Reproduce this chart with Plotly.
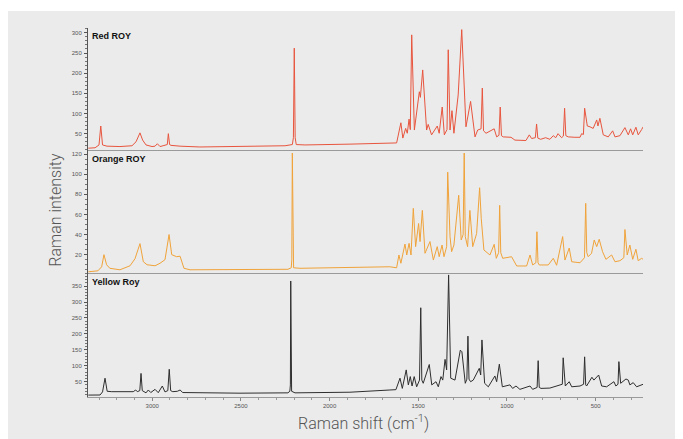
import plotly.graph_objects as go
from plotly.subplots import make_subplots

# ---------------- data ----------------
red_shift = [3360, 3322, 3300, 3290, 3280, 3255, 3182, 3114, 3091, 3069, 3054, 3035, 3001, 2984, 2971,
             2956, 2939, 2928, 2915, 2909, 2902, 2894, 2843, 2731, 2505, 2251, 2210, 2204, 2199, 2194,
             2188, 2139, 1885, 1660, 1622, 1598, 1587, 1571, 1562, 1552, 1545, 1537, 1522, 1494, 1488,
             1475, 1453, 1444, 1425, 1393, 1382, 1365, 1353, 1338, 1331, 1321, 1310, 1299, 1275, 1255,
             1231, 1205, 1180, 1165, 1146, 1139, 1132, 1118, 1072, 1058, 1045, 1038, 1031, 1021, 977,
             955, 893, 874, 861, 840, 833, 826, 810, 782, 758, 739, 725, 712, 692, 682, 675, 668, 654,
             617, 588, 579, 569, 562, 547, 532, 514, 494, 487, 476, 457, 429, 404, 391, 363, 335, 316,
             303, 291, 273, 260, 241, 232]
red_int = [14, 15, 22, 69, 22, 19, 18, 20, 30, 52, 34, 22, 18, 19, 25,
           18, 20, 21, 23, 50, 23, 21, 19, 17, 18, 20, 23, 40, 262, 40,
           23, 22, 24, 26, 27, 77, 39, 63, 51, 86, 60, 295, 59, 154, 140,
           208, 59, 73, 47, 69, 51, 116, 47, 60, 258, 59, 107, 51, 146, 308,
           67, 130, 42, 59, 62, 163, 57, 51, 62, 42, 46, 116, 45, 42, 41,
           34, 33, 47, 38, 40, 74, 39, 36, 40, 36, 45, 40, 50, 40, 44, 113, 45, 42,
           41, 41, 50, 48, 113, 69, 67, 63, 84, 69, 88, 47, 42, 57, 42, 45, 65, 47,
           62, 47, 66, 47, 60, 67]

orange_shift = [3360, 3306, 3285, 3272, 3257, 3239, 3182, 3125, 3097, 3069, 3050, 3029, 2984, 2956, 2928,
                2905, 2890, 2862, 2843, 2821, 2787, 2730, 2505, 2235, 2216, 2213, 2210, 2207, 2203, 2167,
                1885, 1660, 1622, 1609, 1598, 1575, 1565, 1552, 1541, 1528, 1515, 1498, 1490, 1477, 1462,
                1434, 1415, 1393, 1382, 1366, 1355, 1340, 1334, 1321, 1312, 1299, 1272, 1258, 1247, 1241,
                1235, 1222, 1209, 1193, 1171, 1154, 1145, 1130, 1096, 1072, 1060, 1047, 1041, 1035, 1024,
                974, 945, 889, 870, 855, 837, 831, 825, 818, 767, 739, 720, 686, 673, 649, 635, 588, 563,
                556, 550, 542, 523, 508, 494, 480, 461, 442, 410, 391, 363, 341, 335, 322, 307, 291, 273,
                260, 241, 232]
orange_int = [3, 4, 8, 20, 10, 6.5, 5, 9, 16, 31, 13, 10, 9, 11.5, 15,
              40, 20, 18, 18.5, 6.5, 5, 5, 5, 5.5, 7, 15, 121, 15, 7, 6.5,
              7, 8, 7, 19.7, 11.5, 30.6, 19.7, 31.3, 19.7, 66, 28, 51, 33, 64, 21.4,
              33, 14.7, 28, 18, 29.6, 18, 28, 102, 38, 23, 29.6, 79, 34.6, 40, 121,
              38, 28, 64, 28, 41, 86.5, 56, 24.7, 19.7, 30.3, 16.4, 22, 69, 22, 16.4,
              18, 8.8, 8.8, 19.7, 9.8, 12, 42.8, 12, 9.8, 9.8, 16.4, 9.5, 38, 14.7, 26.6, 13, 12, 17,
              71, 22, 18, 21.4, 34.6, 28, 35.3, 23, 15.4, 19.7, 13, 14, 17, 45, 19.7, 29.6, 15.4, 25.4,
              14, 16.4, 15.4]

yellow_shift = [3360, 3294, 3280, 3266, 3254, 3228, 3107, 3093, 3084, 3070, 3063, 3056, 3035, 3022, 3008,
                2984, 2966, 2943, 2928, 2912, 2904, 2896, 2884, 2858, 2843, 2828, 2505, 2235, 2224, 2221,
                2219, 2217, 2214, 2195, 1885, 1660, 1626, 1603, 1590, 1568, 1556, 1545, 1535, 1523, 1509,
                1493, 1486, 1480, 1472, 1438, 1424, 1400, 1387, 1372, 1362, 1349, 1340, 1329, 1317, 1293,
                1263, 1254, 1235, 1226, 1220, 1214, 1205, 1190, 1156, 1148, 1141, 1126, 1105, 1068, 1058,
                1043, 1026, 983, 968, 949, 927, 870, 855, 830, 824, 818, 808, 758, 701, 688, 683, 671,
                649, 635, 588, 568, 562, 556, 551, 521, 510, 483, 466, 438, 397, 386, 374, 369, 359, 329,
                316, 307, 288, 269, 232]
yellow_int = [8, 8.3, 18, 61, 20, 18.7, 18.7, 24, 18.7, 22, 76, 22, 15, 24, 16,
              26, 15.5, 36.5, 18, 22, 89, 22, 18.7, 20, 24, 16, 14, 15, 20, 40,
              366, 40, 20, 15, 17, 24, 25, 61, 29, 87, 40, 66, 36.5, 66, 34,
              55, 282, 55, 45, 104, 40, 50, 34, 66, 55, 120, 87, 385, 61, 55,
              149, 144, 45, 58, 193, 58, 50, 55, 92, 71, 181, 45, 34, 68, 50,
              105, 34, 40, 29, 36.5, 26, 36.5, 26, 32, 116, 32, 29, 30, 40, 42, 125, 36.5,
              50, 34, 36.5, 42, 128, 40, 36.5, 64, 55, 71, 36.5, 34, 50, 36.5, 42, 113, 45, 58.5,
              55, 40, 47, 34, 42]

panel_names = ["Red ROY", "Orange ROY", "Yellow Roy"]
line_colors = ["#e8553e", "#f0a33a", "#2e2e2e"]
y_ranges = [[9.5, 312], [1.8, 124], [2, 391]]
y_ticks = [[50, 100, 150, 200, 250, 300], [20, 40, 60, 80, 100, 120], [50, 100, 150, 200, 250, 300, 350]]
y_minor = [10, 5, 10]
x_ticks = [500, 1000, 1500, 2000, 2500, 3000]
x_range = [3362, 233]

# ---------------- figure ----------------
fig = make_subplots(rows=3, cols=1, shared_xaxes=True, vertical_spacing=0)
series = [(red_shift, red_int), (orange_shift, orange_int), (yellow_shift, yellow_int)]
for i, (xs, ys) in enumerate(series):
    fig.add_trace(go.Scatter(x=xs, y=ys, mode="lines", name=panel_names[i],
                             line=dict(color=line_colors[i], width=1), showlegend=False),
                  row=i + 1, col=1)

domains = [[0.6694, 1.0], [0.3360, 0.6694], [0.0, 0.3360]]
tick_font = dict(family="Arial, Liberation Sans, sans-serif", size=6, color="#555555")
for i in range(3):
    ax = "yaxis" if i == 0 else f"yaxis{i + 1}"
    fig.layout[ax].update(domain=domains[i], range=y_ranges[i], tickvals=y_ticks[i],
                          showline=True, linecolor="#555555", linewidth=1,
                          ticks="outside", ticklen=3, tickcolor="#555555", tickwidth=1,
                          minor=dict(ticks="outside", ticklen=2, dtick=y_minor[i], tickcolor="#777777"),
                          showgrid=False, zeroline=False, tickfont=tick_font, ticklabelstandoff=1)
    xa = "xaxis" if i == 0 else f"xaxis{i + 1}"
    fig.layout[xa].update(range=x_range, showline=True, linecolor="#9a9a9a", linewidth=1,
                          showgrid=False, zeroline=False, tickvals=x_ticks)
    if i < 2:
        fig.layout[xa].update(ticks="", showticklabels=False)
    else:
        fig.layout[xa].update(ticks="outside", ticklen=3, tickcolor="#888888",
                              minor=dict(ticks="outside", ticklen=2, dtick=100, tickcolor="#999999"),
                              tickfont=tick_font)

label_y = [0.997, 0.664, 0.330]
for i in range(3):
    fig.add_annotation(xref="paper", yref="paper", x=0.004, y=label_y[i], xanchor="left", yanchor="top",
                       text=f"<b>{panel_names[i]}</b>", showarrow=False,
                       font=dict(family="Arial, Liberation Sans, sans-serif", size=9, color="#111111"))

title_font = dict(family="Roboto, Liberation Sans Narrow, sans-serif", size=16, color="#555555", weight=300)
fig.add_annotation(xref="paper", yref="paper", x=-0.058, y=0.507, xanchor="center", yanchor="middle",
                   text="Raman intensity", textangle=-90, showarrow=False, font=title_font)
fig.add_annotation(xref="paper", yref="paper", x=0.496, y=-0.068, xanchor="center", yanchor="middle",
                   text="Raman shift (cm<sup>-1</sup>)", showarrow=False, font=title_font)

# thin white strip above the grey panel
fig.add_shape(type="rect", xref="paper", yref="paper", x0=-0.2, x1=1.2, y0=1.046, y1=1.2,
              fillcolor="white", line=dict(width=0), layer="below")

# the page body adds an 8 px offset, so the figure is 8 px smaller than the window
fig.update_layout(width=675, height=431, margin=dict(l=80, r=40, t=20, b=42),
                  paper_bgcolor="#ebebeb", plot_bgcolor="rgba(0,0,0,0)")

fig.write_html("out.html")
